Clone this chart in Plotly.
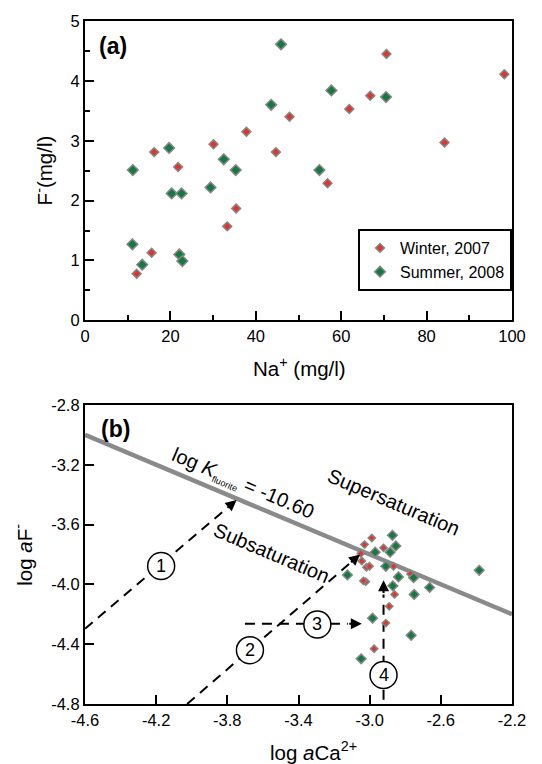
import plotly.graph_objects as go

# ---------------- Panel (a) data ----------------
winter_na = [12.1, 15.6, 16.2, 21.8, 30.1, 33.3, 35.4, 37.8, 44.7, 47.9, 56.8, 61.9, 66.8, 70.6, 84.2, 98.2]
winter_f = [0.78, 1.13, 2.81, 2.56, 2.94, 1.57, 1.87, 3.15, 2.81, 3.40, 2.29, 3.53, 3.75, 4.45, 2.97, 4.11]
summer_na = [11.2, 11.1, 13.4, 19.7, 20.3, 22.6, 22.1, 22.8, 29.4, 32.5, 35.3, 43.6, 45.9, 54.9, 57.7, 70.5]
summer_f = [2.51, 1.27, 0.93, 2.88, 2.12, 2.12, 1.10, 0.99, 2.22, 2.69, 2.51, 3.60, 4.61, 2.51, 3.84, 3.73]

# ---------------- Panel (b) data ----------------
winter_logca = [-2.988, -3.029, -3.050, -2.922, -3.044, -3.018, -3.001, -2.866, -3.022, -3.035, -2.770,
                -2.860, -2.890, -2.909, -2.975]
winter_logf = [-3.690, -3.734, -3.793, -3.756, -3.844, -3.886, -3.879, -3.879, -3.982, -3.977, -3.930,
               -4.067, -4.147, -4.259, -4.431]
summer_logca = [-2.872, -2.853, -2.969, -2.885, -2.909, -3.125, -2.838, -2.753, -2.870, -2.663, -2.750,
                -2.984, -2.767, -3.048, -2.384]
summer_logf = [-3.672, -3.743, -3.785, -3.785, -3.879, -3.937, -3.950, -3.955, -4.010, -4.021, -4.067,
               -4.226, -4.341, -4.498, -3.906]

log_k_fluorite = -10.60
line_logca = [-4.6, -2.2]

# evolution paths: start, arrow tail, arrow tip (log aCa, log aF)
path_starts = [(-4.6, -4.297), (-4.026, -4.8), (-3.701, -4.264), (-2.922, -4.771)]
path_tails = [(-3.808, -3.496), (-3.113, -3.861), (-3.123, -4.264), (-2.922, -4.068)]
path_tips = [(-3.748, -3.436), (-3.054, -3.800), (-3.044, -4.264), (-2.922, -3.972)]
path_labels = ["1", "2", "3", "4"]
path_label_pos = [(-4.172, -3.877), (-3.673, -4.440), (-3.294, -4.268), (-2.922, -4.606)]

# tick labels
a_xticks = [0, 20, 40, 60, 80, 100]
a_yticks = [0, 1, 2, 3, 4, 5]
b_xticks = [-4.6, -4.2, -3.8, -3.4, -3.0, -2.6, -2.2]
b_xticktext = ["-4.6", "-4.2", "-3.8", "-3.4", "-3.0", "-2.6", "-2.2"]
b_yticks = [-4.8, -4.4, -4.0, -3.6, -3.2, -2.8]
b_yticktext = ["-4.8", "-4.4", "-4.0", "-3.6", "-3.2", "-2.8"]

RED = "#e2342a"
GREEN = "#137a40"
OUT = "#858585"
FONT = "Liberation Sans, Arial, Helvetica, sans-serif"

fig = go.Figure()

# panel a
fig.add_trace(go.Scatter(x=winter_na, y=winter_f, mode="markers", name="Winter, 2007",
                         marker=dict(symbol="diamond", size=6.8, color=RED, line=dict(color=OUT, width=1.5)),
                         xaxis="x", yaxis="y"))
fig.add_trace(go.Scatter(x=summer_na, y=summer_f, mode="markers", name="Summer, 2008",
                         marker=dict(symbol="diamond", size=8.2, color=GREEN, line=dict(color=OUT, width=1.5)),
                         xaxis="x", yaxis="y"))

# panel b saturation line
line_logf = [(log_k_fluorite - v) / 2 for v in line_logca]
fig.add_trace(go.Scatter(x=line_logca, y=line_logf, mode="lines", showlegend=False,
                         line=dict(color="#8a8a8a", width=4.5), xaxis="x2", yaxis="y2", hoverinfo="skip"))

# dashed paths
for s, t in zip(path_starts, path_tails):
    fig.add_trace(go.Scatter(x=[s[0], t[0]], y=[s[1], t[1]], mode="lines", showlegend=False,
                             line=dict(color="black", width=2, dash="10px,7px"),
                             xaxis="x2", yaxis="y2", hoverinfo="skip"))

fig.add_trace(go.Scatter(x=winter_logca, y=winter_logf, mode="markers", showlegend=False,
                         marker=dict(symbol="diamond", size=5.6, color=RED, line=dict(color=OUT, width=1.5)),
                         xaxis="x2", yaxis="y2"))
fig.add_trace(go.Scatter(x=summer_logca, y=summer_logf, mode="markers", showlegend=False,
                         marker=dict(symbol="diamond", size=7.4, color=GREEN, line=dict(color=OUT, width=1.5)),
                         xaxis="x2", yaxis="y2"))

annotations = []
shapes = []

# arrows
for t, p in zip(path_tails, path_tips):
    annotations.append(dict(x=p[0], y=p[1], ax=t[0], ay=t[1], xref="x2", yref="y2", axref="x2", ayref="y2",
                            showarrow=True, arrowhead=2, arrowsize=1.1, arrowwidth=2, arrowcolor="black", text=""))

# numbered circles
for lab, pos in zip(path_labels, path_label_pos):
    shapes.append(dict(type="circle", xref="x2", yref="y2", xsizemode="pixel", ysizemode="pixel",
                       xanchor=pos[0], yanchor=pos[1], x0=-13.5, x1=13.5, y0=-13.5, y1=13.5,
                       fillcolor="white", line=dict(color="black", width=1.5), layer="above"))
    annotations.append(dict(x=pos[0], y=pos[1], xref="x2", yref="y2", text=lab, showarrow=False,
                            xanchor="center", yanchor="middle",
                            font=dict(size=18, family=FONT, color="black")))

# panel labels
annotations.append(dict(x=6.5, y=4.59, xref="x", yref="y", text="<b>(a)</b>", showarrow=False,
                        xanchor="center", yanchor="middle",
                        font=dict(size=23, family=FONT, color="black")))
annotations.append(dict(x=-4.431, y=-2.962, xref="x2", yref="y2", text="<b>(b)</b>", showarrow=False,
                        xanchor="center", yanchor="middle",
                        font=dict(size=23, family=FONT, color="black")))

# rotated texts
annotations.append(dict(x=-3.710, y=-3.326, xref="x2", yref="y2", textangle=23, showarrow=False,
                        xanchor="center", yanchor="middle",
                        text="log <i>K</i><sub><span style='font-size:9px'>fluorite</span></sub> = -10.60",
                        font=dict(size=20, family=FONT, color="black")))
annotations.append(dict(x=-2.866, y=-3.452, xref="x2", yref="y2", textangle=23, showarrow=False,
                        xanchor="center", yanchor="middle",
                        text="Supersaturation", font=dict(size=20, family=FONT, color="black")))
annotations.append(dict(x=-3.550, y=-3.789, xref="x2", yref="y2", textangle=23, showarrow=False,
                        xanchor="center", yanchor="middle",
                        text="Subsaturation", font=dict(size=20, family=FONT, color="black")))

# axis titles (paper coords)
title_font = dict(size=20.5, family=FONT, color="black")
annotations.append(dict(x=0.5035, y=0.4935, xref="paper", yref="paper", showarrow=False,
                        xanchor="center", yanchor="middle",
                        text="Na<sup>+</sup> (mg/l)", font=title_font))
annotations.append(dict(x=-0.096, y=0.7813, xref="paper", yref="paper", showarrow=False, textangle=-90,
                        xanchor="center", yanchor="middle",
                        text="F<sup>-</sup>(mg/l)", font=title_font))
annotations.append(dict(x=0.536, y=-0.0685, xref="paper", yref="paper", showarrow=False,
                        xanchor="center", yanchor="middle",
                        text="log <i>a</i>Ca<sup>2+</sup>", font=title_font))
annotations.append(dict(x=-0.145, y=0.2187, xref="paper", yref="paper", showarrow=False, textangle=-90,
                        xanchor="center", yanchor="middle",
                        text="log <i>a</i>F<sup>-</sup>", font=title_font))

axis_common = dict(showline=True, linecolor="black", linewidth=2.2, mirror=True, ticks="inside",
                   ticklen=9, tickwidth=2, tickcolor="black", showgrid=False, zeroline=False,
                   tickfont=dict(size=16.5, family=FONT, color="black"))

fig.update_layout(
    width=542, height=764,
    margin=dict(l=85, r=30, t=15, b=60),
    paper_bgcolor="white", plot_bgcolor="white",
    font=dict(family=FONT, size=16, color="black"),
    xaxis=dict(domain=[0, 1], anchor="y", range=[0, 100], tickvals=a_xticks,
               minor=dict(ticks="inside", ticklen=5, tickwidth=2, tickcolor="black", dtick=10, tick0=0),
               **axis_common),
    yaxis=dict(domain=[0.5617, 1], anchor="x", range=[0, 5], tickvals=a_yticks,
               minor=dict(ticks="inside", ticklen=5, tickwidth=2, tickcolor="black", dtick=0.5, tick0=0),
               **axis_common),
    xaxis2=dict(domain=[0, 1], anchor="y2", range=[-4.6, -2.2], tickvals=b_xticks, ticktext=b_xticktext,
                **axis_common),
    yaxis2=dict(domain=[0, 0.4379], anchor="x2", range=[-4.8, -2.8], tickvals=b_yticks, ticktext=b_yticktext,
                **axis_common),
    legend=dict(x=1, xanchor="right", y=0.6047, yanchor="bottom", bgcolor="white",
                bordercolor="black", borderwidth=2, font=dict(size=16, family=FONT, color="black"),
                tracegroupgap=0),
    annotations=annotations,
    shapes=shapes,
    showlegend=True,
)

fig.write_html("out.html", config={"displayModeBar": False},
               post_script="document.body.style.margin='0';document.body.style.overflow='hidden';")
